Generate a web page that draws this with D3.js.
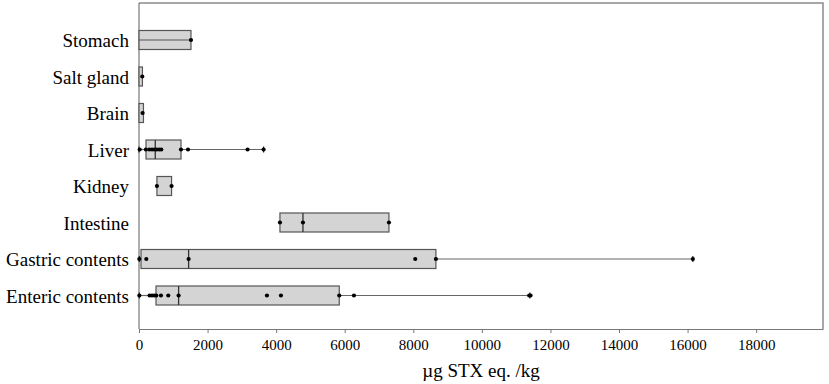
<!DOCTYPE html>
<html>
<head>
<meta charset="utf-8">
<script src="https://cdn.jsdelivr.net/npm/d3@7"></script>
<style>
  body { margin: 0; background: #fff; }
</style>
</head>
<body>
<div id="chart"></div>
<script>
// data (µg STX eq. /kg)
const categories = ["Stomach", "Salt gland", "Brain", "Liver", "Kidney", "Intestine", "Gastric contents", "Enteric contents"];
const mins    = [0,    0,   0,   0,    523, 4111, 10,    10];
const q1s     = [0,    0,   0,   204,  523, 4111, 58,    496];
const medians = [null, null, null, 475, null, 4782, 1447, 1155];
const q3s     = [1516, 100, 130, 1225, 950, 7290, 8660,  5841];
const maxs    = [1516, 100, 130, 3634, 950, 7290, 16154, 11400];
const points  = [
    [1516],
    [95],
    [105],
    [20, 200, 300, 380, 450, 520, 590, 650, 1225, 1429, 3167, 3634],
    [523, 950],
    [4111, 4782, 7290],
    [10, 213, 1447, 8057, 8660, 16154],
    [10, 309, 379, 446, 504, 641, 854, 1155, 3732, 4140, 5841, 6269, 11380, 11420]
];
const midLineRows = ["Stomach"];
const xTicks = [0, 2000, 4000, 6000, 8000, 10000, 12000, 14000, 16000, 18000];
const xTitle = "µg STX eq. /kg";

// set the dimensions and margins of the graph
const margin = { top: 3, right: 6, bottom: 55, left: 139 },
    width = 829 - margin.left - margin.right,
    height = 384 - margin.top - margin.bottom;

const svg = d3.select("#chart")
    .append("svg")
    .attr("width", width + margin.left + margin.right)
    .attr("height", height + margin.top + margin.bottom)
    .append("g")
    .attr("transform", "translate(" + margin.left + "," + margin.top + ")");

const font = "'Liberation Serif', 'Times New Roman', serif";

const x = d3.scaleLinear()
    .domain([0, 19950])
    .range([0, width]);

const y = d3.scalePoint()
    .domain(categories)
    .range([37, 292.5]);

const boxH = 19;

const rows = categories.map((c, i) => ({
    cat: c, min: mins[i], q1: q1s[i], med: medians[i], q3: q3s[i], max: maxs[i], pts: points[i]
}));

// frame (top and right)
svg.append("path")
    .attr("d", "M0,0H" + width + "V" + height)
    .attr("fill", "none")
    .attr("stroke", "#8a8a8a")
    .attr("stroke-width", 1.5);

// X axis
const xAxis = svg.append("g")
    .attr("transform", "translate(0," + height + ")")
    .call(d3.axisBottom(x).tickValues(xTicks).tickSize(4).tickSizeOuter(0).tickFormat(d3.format("d")));
xAxis.select(".domain").attr("stroke", "#777").attr("stroke-width", 1.2);
xAxis.selectAll(".tick line").attr("stroke", "#777");
xAxis.selectAll(".tick text")
    .attr("dy", "0.95em")
    .style("font-family", font)
    .style("font-size", "15px")
    .style("fill", "#000");

// Y axis (labels only, plus axis line)
const yAxis = svg.append("g")
    .call(d3.axisLeft(y).tickSize(0).tickPadding(10));
yAxis.select(".domain").remove();
svg.append("line")
    .attr("x1", 0).attr("x2", 0)
    .attr("y1", 0).attr("y2", height)
    .attr("stroke", "#777")
    .attr("stroke-width", 1.2);
yAxis.selectAll(".tick text")
    .attr("dy", "0.35em")
    .style("font-family", font)
    .style("font-size", "19px")
    .style("fill", "#000");

const g = svg.append("g").selectAll("g")
    .data(rows)
    .enter().append("g")
    .attr("transform", d => "translate(0," + y(d.cat) + ")");

// whiskers
g.filter(d => d.min < d.q1).append("line")
    .attr("x1", d => x(d.min)).attr("x2", d => x(d.q1))
    .attr("stroke", "#666").attr("stroke-width", 1.2);
g.filter(d => d.max > d.q3).append("line")
    .attr("x1", d => x(d.q3)).attr("x2", d => x(d.max))
    .attr("stroke", "#666").attr("stroke-width", 1.2);
// whisker caps
g.filter(d => d.max > d.q3).append("line")
    .attr("x1", d => x(d.max)).attr("x2", d => x(d.max))
    .attr("y1", -3).attr("y2", 3)
    .attr("stroke", "#222").attr("stroke-width", 1.2);
g.filter(d => d.min < d.q1).append("line")
    .attr("x1", d => x(d.min)).attr("x2", d => x(d.min))
    .attr("y1", -3).attr("y2", 3)
    .attr("stroke", "#222").attr("stroke-width", 1.2);

// boxes
g.append("rect")
    .attr("x", d => x(d.q1))
    .attr("y", -boxH / 2)
    .attr("width", d => x(d.q3) - x(d.q1))
    .attr("height", boxH)
    .attr("fill", "#d4d4d4")
    .attr("stroke", "#555")
    .attr("stroke-width", 1.2);

// center line drawn through some boxes
g.filter(d => midLineRows.includes(d.cat)).append("line")
    .attr("x1", d => x(d.min)).attr("x2", d => x(d.max))
    .attr("stroke", "#555").attr("stroke-width", 1.2);

// medians
g.filter(d => d.med !== null).append("line")
    .attr("x1", d => x(d.med)).attr("x2", d => x(d.med))
    .attr("y1", -boxH / 2).attr("y2", boxH / 2)
    .attr("stroke", "#333").attr("stroke-width", 1.3);

// dots
g.selectAll("circle")
    .data(d => d.pts)
    .enter().append("circle")
    .attr("cx", v => x(v))
    .attr("cy", 0)
    .attr("r", 2.1)
    .attr("fill", "#000");

// X label
svg.append("text")
    .attr("text-anchor", "middle")
    .attr("x", width / 2)
    .attr("y", height + 48)
    .text(xTitle)
    .style("fill", "black")
    .style("font-size", "19px")
    .style("font-family", font);
</script>
</body>
</html>
